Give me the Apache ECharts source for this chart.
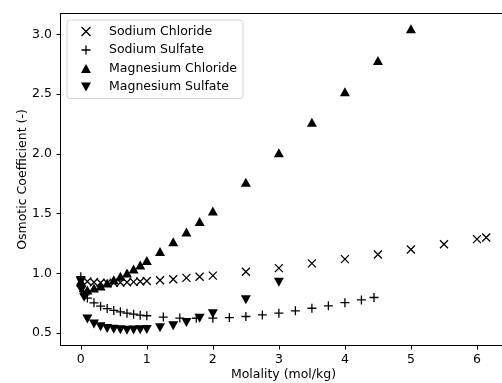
<!DOCTYPE html>
<html>
<head>
<meta charset="utf-8">
<script src="https://cdn.jsdelivr.net/npm/echarts@6/dist/echarts.min.js"></script>
<style>
html,body{margin:0;padding:0;background:#fff;}
#chart{width:502px;height:383px;}
</style>
</head>
<body>
<div id="chart"></div>
<script>
var seriesNames = ['Sodium Chloride', 'Sodium Sulfate', 'Magnesium Chloride', 'Magnesium Sulfate'];

var naclX = [0.001, 0.1, 0.2, 0.3, 0.4, 0.5, 0.6, 0.7, 0.8, 0.9, 1.0, 1.2, 1.4, 1.6, 1.8, 2.0, 2.5, 3.0, 3.5, 4.0, 4.5, 5.0, 5.5, 6.0, 6.14];
var naclY = [0.94, 0.932, 0.925, 0.922, 0.920, 0.921, 0.923, 0.926, 0.929, 0.932, 0.936, 0.943, 0.951, 0.962, 0.972, 0.981, 1.014, 1.044, 1.084, 1.119, 1.158, 1.200, 1.244, 1.287, 1.300];

var na2so4X = [0.001, 0.01, 0.04, 0.065, 0.1, 0.2, 0.3, 0.4, 0.5, 0.6, 0.7, 0.8, 0.9, 1.0, 1.25, 1.5, 1.75, 2.0, 2.25, 2.5, 2.75, 3.0, 3.25, 3.5, 3.75, 4.0, 4.25, 4.44];
var na2so4Y = [0.972, 0.89, 0.85, 0.82, 0.793, 0.753, 0.725, 0.705, 0.690, 0.678, 0.667, 0.658, 0.650, 0.645, 0.634, 0.626, 0.624, 0.625, 0.630, 0.639, 0.652, 0.667, 0.686, 0.708, 0.728, 0.755, 0.778, 0.798];

var mgcl2X = [0.001, 0.1, 0.2, 0.3, 0.4, 0.5, 0.6, 0.7, 0.8, 0.9, 1.0, 1.2, 1.4, 1.6, 1.8, 2.0, 2.5, 3.0, 3.5, 4.0, 4.5, 5.0];
var mgcl2Y = [0.93, 0.861, 0.877, 0.895, 0.919, 0.947, 0.976, 1.004, 1.036, 1.071, 1.108, 1.184, 1.264, 1.347, 1.434, 1.523, 1.762, 2.011, 2.265, 2.521, 2.783, 3.048];

var mgso4X = [0.001, 0.01, 0.05, 0.1, 0.2, 0.3, 0.4, 0.5, 0.6, 0.7, 0.8, 0.9, 1.0, 1.2, 1.4, 1.6, 1.8, 2.0, 2.5, 3.0];
var mgso4Y = [0.93, 0.86, 0.80, 0.617, 0.575, 0.553, 0.539, 0.532, 0.527, 0.524, 0.525, 0.527, 0.531, 0.544, 0.562, 0.589, 0.625, 0.662, 0.780, 0.925];

var xTicks = [0, 1, 2, 3, 4, 5, 6];
var yTicks = [0.5, 1.0, 1.5, 2.0, 2.5, 3.0];

function pairs(xs, ys) {
    var out = [];
    for (var i = 0; i < xs.length; i++) {
        out.push([xs[i], ys[i]]);
    }
    return out;
}

var crossPath = 'path://M0,0L10,10M10,0L0,10';
var plusPath = 'path://M5,0L5,10M0,5L10,5';
var upPath = 'path://M5,0L10,9L0,9Z';
var downPath = 'path://M0,0L10,0L5,9Z';
var font = 'DejaVu Sans';
var fs = 12.5;

var lineStyleMark = { color: 'none', borderColor: '#000', borderWidth: 1.3, opacity: 1 };
var fillMark = { color: '#000', borderWidth: 0, opacity: 1 };

var option = {
    animation: false,
    backgroundColor: '#fff',
    textStyle: { fontFamily: font },
    grid: {
        left: 60.5,
        top: 13.5,
        width: 446,
        height: 332,
        outerBoundsMode: 'none',
        show: true,
        borderColor: '#000',
        borderWidth: 1
    },
    legend: {
        orient: 'vertical',
        left: 67,
        top: 20,
        itemWidth: 10,
        itemHeight: 9,
        itemGap: 3.5,
        padding: [4, 6, 4, 12],
        backgroundColor: '#fff',
        borderColor: '#d6d6d6',
        borderWidth: 1,
        borderRadius: 3,
        textStyle: { fontFamily: font, fontSize: fs, color: '#000', lineHeight: 15, padding: [0, 0, 0, 13] },
        data: [
            { name: seriesNames[0], icon: crossPath, itemStyle: lineStyleMark },
            { name: seriesNames[1], icon: plusPath, itemStyle: lineStyleMark },
            { name: seriesNames[2], icon: upPath, itemStyle: fillMark },
            { name: seriesNames[3], icon: downPath, itemStyle: fillMark }
        ]
    },
    xAxis: {
        type: 'value',
        min: -0.307,
        max: 6.447,
        name: 'Molality (mol/kg)',
        nameLocation: 'middle',
        nameMoveOverlap: false,
        nameGap: 23,
        nameTextStyle: { fontFamily: font, fontSize: fs, color: '#000' },
        splitLine: { show: false },
        axisLine: { show: true, onZero: false, lineStyle: { color: '#000', width: 1 } },
        axisTick: { show: true, inside: false, length: 4, customValues: xTicks, lineStyle: { color: '#000' } },
        axisLabel: {
            customValues: xTicks,
            margin: 8,
            fontFamily: font, fontSize: fs, color: '#000'
        }
    },
    yAxis: {
        type: 'value',
        min: 0.396,
        max: 3.176,
        name: 'Osmotic Coefficient (-)',
        nameLocation: 'middle',
        nameMoveOverlap: false,
        nameGap: 31,
        nameTextStyle: { fontFamily: font, fontSize: fs, color: '#000' },
        splitLine: { show: false },
        axisLine: { show: true, onZero: false, lineStyle: { color: '#000', width: 1 } },
        axisTick: { show: true, inside: false, length: 4, customValues: yTicks, lineStyle: { color: '#000' } },
        axisLabel: {
            customValues: yTicks,
            margin: 8.5,
            fontFamily: font, fontSize: fs, color: '#000',
            formatter: function (v) { return v.toFixed(1); }
        }
    },
    series: [
        {
            name: seriesNames[0],
            type: 'scatter',
            symbol: crossPath,
            symbolSize: 8,
            itemStyle: lineStyleMark,
            data: pairs(naclX, naclY)
        },
        {
            name: seriesNames[1],
            type: 'scatter',
            symbol: plusPath,
            symbolSize: 9,
            itemStyle: lineStyleMark,
            data: pairs(na2so4X, na2so4Y)
        },
        {
            name: seriesNames[2],
            type: 'scatter',
            symbol: upPath,
            symbolSize: [10, 9],
            itemStyle: fillMark,
            data: pairs(mgcl2X, mgcl2Y)
        },
        {
            name: seriesNames[3],
            type: 'scatter',
            symbol: downPath,
            symbolSize: [10, 9],
            itemStyle: fillMark,
            data: pairs(mgso4X, mgso4Y)
        }
    ]
};

var chart = echarts.init(document.getElementById('chart'));
chart.setOption(option);
</script>
</body>
</html>
